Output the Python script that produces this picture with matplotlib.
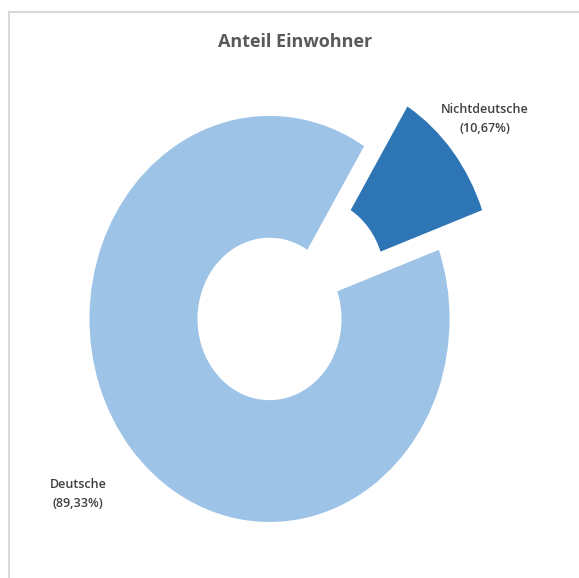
import matplotlib.pyplot as plt
from matplotlib.patches import Rectangle

# Daten
kategorien = ['Deutsche', 'Nichtdeutsche']
anteile = [89.33, 10.67]
farben = ['#9DC3E6', '#2E75B6']
explode = [0, 0.31]

fig = plt.figure(figsize=(5.79, 5.78), dpi=100)
ax = fig.add_axes([0, 0, 1, 1])

ax.pie(anteile, colors=farben, explode=explode, startangle=19.9, counterclock=False,
       wedgeprops=dict(width=0.6, linewidth=0))

# Kreis leicht gestreckt wie im Original
ax.set_aspect('auto')
ax.set_xlim(-1.497, 1.719)
ax.set_ylim(-1.276, 1.571)
ax.axis('off')

# Titel
fig.text(295 / 579, 1 - 42 / 578, 'Anteil Einwohner', ha='center', va='center',
         fontsize=13, fontweight='bold', color='#595959', family='Open Sans')

# Beschriftungen
def label(name, wert):
    return f'{name}\n({wert:.2f}%)'.replace('.', ',')

fig.text(485 / 579, 1 - 119 / 578, label(kategorien[1], anteile[1]), ha='center', va='center',
         fontsize=9, fontweight='semibold', color='#404040', family='Open Sans', linespacing=1.55)
fig.text(78 / 579, 1 - 494 / 578, label(kategorien[0], anteile[0]), ha='center', va='center',
         fontsize=9, fontweight='semibold', color='#404040', family='Open Sans', linespacing=1.55)

# Rahmen (rechts und unten abgeschnitten)
fig.patches.append(Rectangle((9 / 579, -0.1), 1.2, 1 - 12 / 578 + 0.1, transform=fig.transFigure,
                             fill=False, edgecolor='#D9D9D9', linewidth=1.5))

fig.savefig('out.png', dpi=100, facecolor='white')
